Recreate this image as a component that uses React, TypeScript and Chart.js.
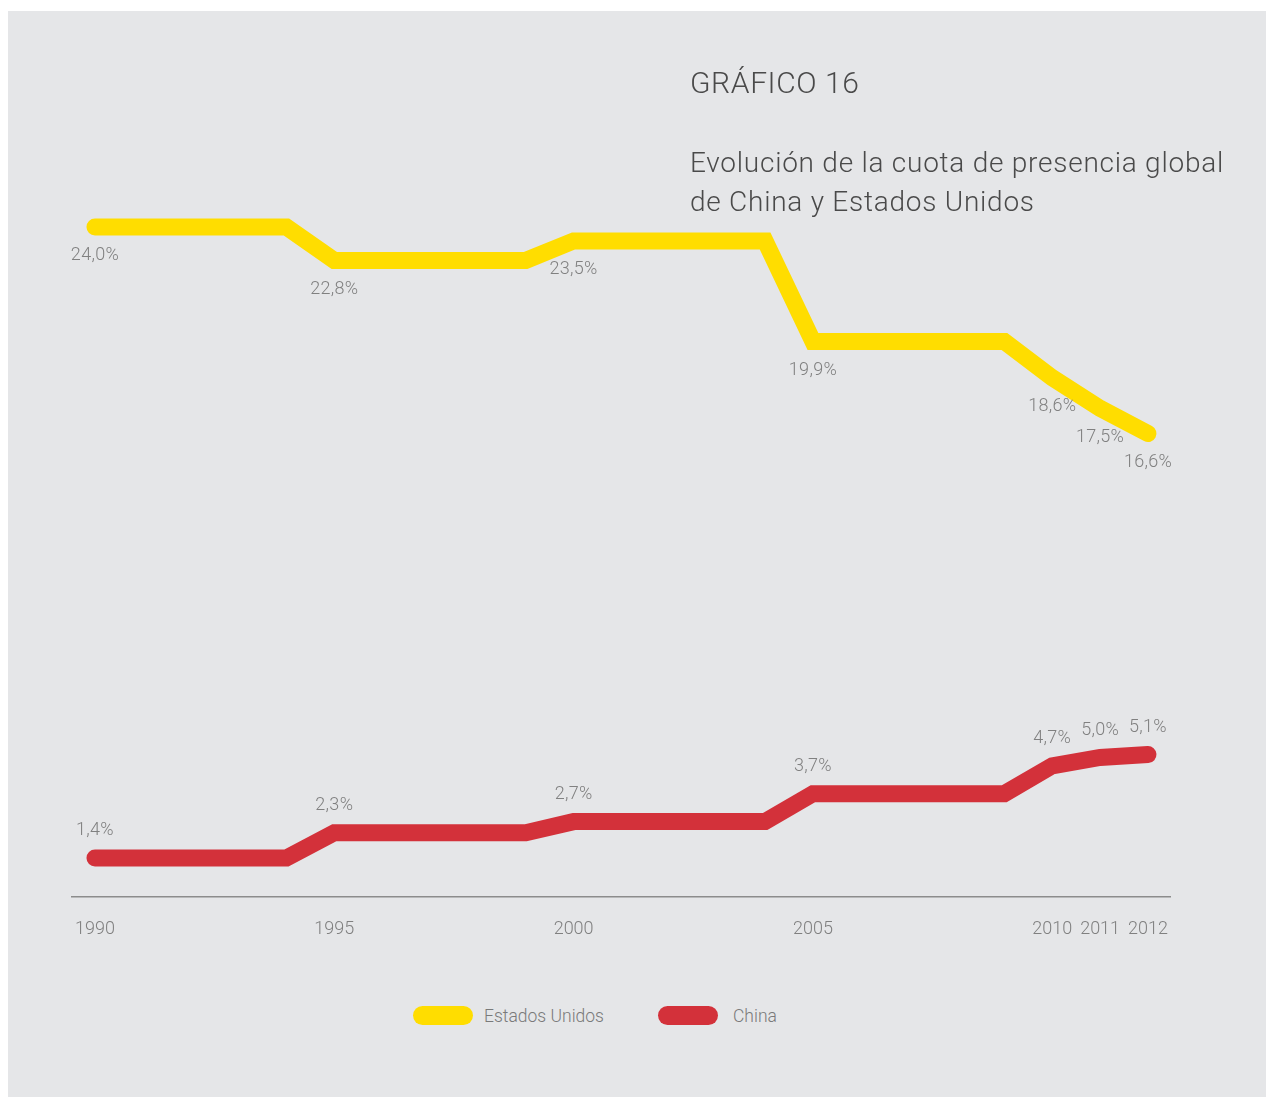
import React, { useEffect, useRef } from "react";
import { Chart, registerables } from "chart.js";

Chart.register(...registerables);

const years = [1990,1991,1992,1993,1994,1995,1996,1997,1998,1999,2000,2001,2002,2003,2004,2005,2006,2007,2008,2009,2010,2011,2012];
const usValues = [24.0,24.0,24.0,24.0,24.0,22.8,22.8,22.8,22.8,22.8,23.5,23.5,23.5,23.5,23.5,19.9,19.9,19.9,19.9,19.9,18.6,17.5,16.6];
const chinaValues = [1.4,1.4,1.4,1.4,1.4,2.3,2.3,2.3,2.3,2.3,2.7,2.7,2.7,2.7,2.7,3.7,3.7,3.7,3.7,3.7,4.7,5.0,5.1];
const tickYears = [1990, 1995, 2000, 2005, 2010, 2011, 2012];
const labeledYears = [1990, 1995, 2000, 2005, 2010, 2011, 2012];
const seriesNames = ["Estados Unidos", "China"];
const seriesColors = ["#FFDD00", "#D3313A"];

const FONT = "Roboto, 'Liberation Sans', sans-serif";

const labelPlugin = {
  id: "valueLabels",
  afterDatasetsDraw(chart: any) {
    const ctx = chart.ctx;
    ctx.save();
    ctx.font = `300 18px ${FONT}`;
    try { (ctx as any).letterSpacing = "0.3px"; } catch (e) {}
    ctx.fillStyle = "#808080";
    ctx.textAlign = "center";
    ctx.textBaseline = "middle";
    chart.data.datasets.forEach((ds: any, di: number) => {
      const meta = chart.getDatasetMeta(di);
      const offset = di === 0 ? 29 : -27;
      ds.data.forEach((pt: any, i: number) => {
        if (!labeledYears.includes(pt.x)) return;
        const el = meta.data[i];
        const txt = pt.y.toFixed(1).replace(".", ",") + "%";
        ctx.fillText(txt, el.x, el.y + offset);
      });
    });
    ctx.restore();
  },
};

export default function App() {
  const ref = useRef<HTMLCanvasElement>(null);
  useEffect(() => {
    if (!ref.current) return;
    const chart = new Chart(ref.current, {
      type: "line",
      data: {
        datasets: [
          {
            label: seriesNames[0],
            data: years.map((y, i) => ({ x: y, y: usValues[i] })),
            borderColor: seriesColors[0],
            backgroundColor: seriesColors[0],
            borderWidth: 17,
            borderCapStyle: "round",
            pointRadius: 0,
            tension: 0,
          },
          {
            label: seriesNames[1],
            data: years.map((y, i) => ({ x: y, y: chinaValues[i] })),
            borderColor: seriesColors[1],
            backgroundColor: seriesColors[1],
            borderWidth: 17,
            borderCapStyle: "round",
            pointRadius: 0,
            tension: 0,
          },
        ],
      },
      options: {
        animation: false,
        responsive: false,
        layout: { padding: { left: 64, right: 96, top: 188, bottom: 0 } },
        plugins: { legend: { display: false }, tooltip: { enabled: false } },
        scales: {
          x: {
            type: "linear",
            min: 1989.52,
            max: 2012.46,
            afterBuildTicks: (scale: any) => {
              scale.ticks = tickYears.map((v) => ({ value: v }));
            },
            afterFit: (scale: any) => {
              scale.height = 50;
            },
            grid: { display: false, drawTicks: false },
            border: { display: true, color: "#8c8c8c", width: 1.5 },
            ticks: {
              padding: 22,
              color: "#808080",
              font: { family: FONT, size: 18, weight: "300" as any },
              autoSkip: false,
              maxRotation: 0,
              callback: (v: any) => String(v),
            },
          },
          y: { display: false, min: 0, max: 25 },
        },
      },
      plugins: [labelPlugin],
    } as any);
    return () => chart.destroy();
  }, []);

  const textBase: React.CSSProperties = {
    position: "absolute",
    fontFamily: FONT,
    fontWeight: 300,
    color: "#4a4a4a",
    whiteSpace: "nowrap",
  };

  return (
    <div
      style={{
        position: "fixed",
        left: 8,
        top: 11,
        width: 1258,
        height: 1086,
        background: "#e5e6e8",
        overflow: "hidden",
      }}
    >
      <canvas ref={ref} width={1258} height={936} style={{ position: "absolute", left: 0, top: 0, width: 1258, height: 936 }} />
      <div style={{ ...textBase, left: 682, top: 52, fontSize: 30, lineHeight: "40px", letterSpacing: "0.6px" }}>GRÁFICO 16</div>
      <div style={{ ...textBase, left: 682, top: 132, fontSize: 28, lineHeight: "39px", letterSpacing: "0.75px" }}>
        Evolución de la cuota de presencia global
        <br />
        de China y Estados Unidos
      </div>
      <div style={{ position: "absolute", left: 405, top: 995, width: 60, height: 19, borderRadius: 10, background: seriesColors[0] }} />
      <div style={{ ...textBase, left: 476, top: 993, fontSize: 17.5, lineHeight: "24px", color: "#7a7a7a" }}>{seriesNames[0]}</div>
      <div style={{ position: "absolute", left: 650, top: 995, width: 60, height: 19, borderRadius: 10, background: seriesColors[1] }} />
      <div style={{ ...textBase, left: 725, top: 993, fontSize: 17.5, lineHeight: "24px", color: "#7a7a7a" }}>{seriesNames[1]}</div>
    </div>
  );
}
